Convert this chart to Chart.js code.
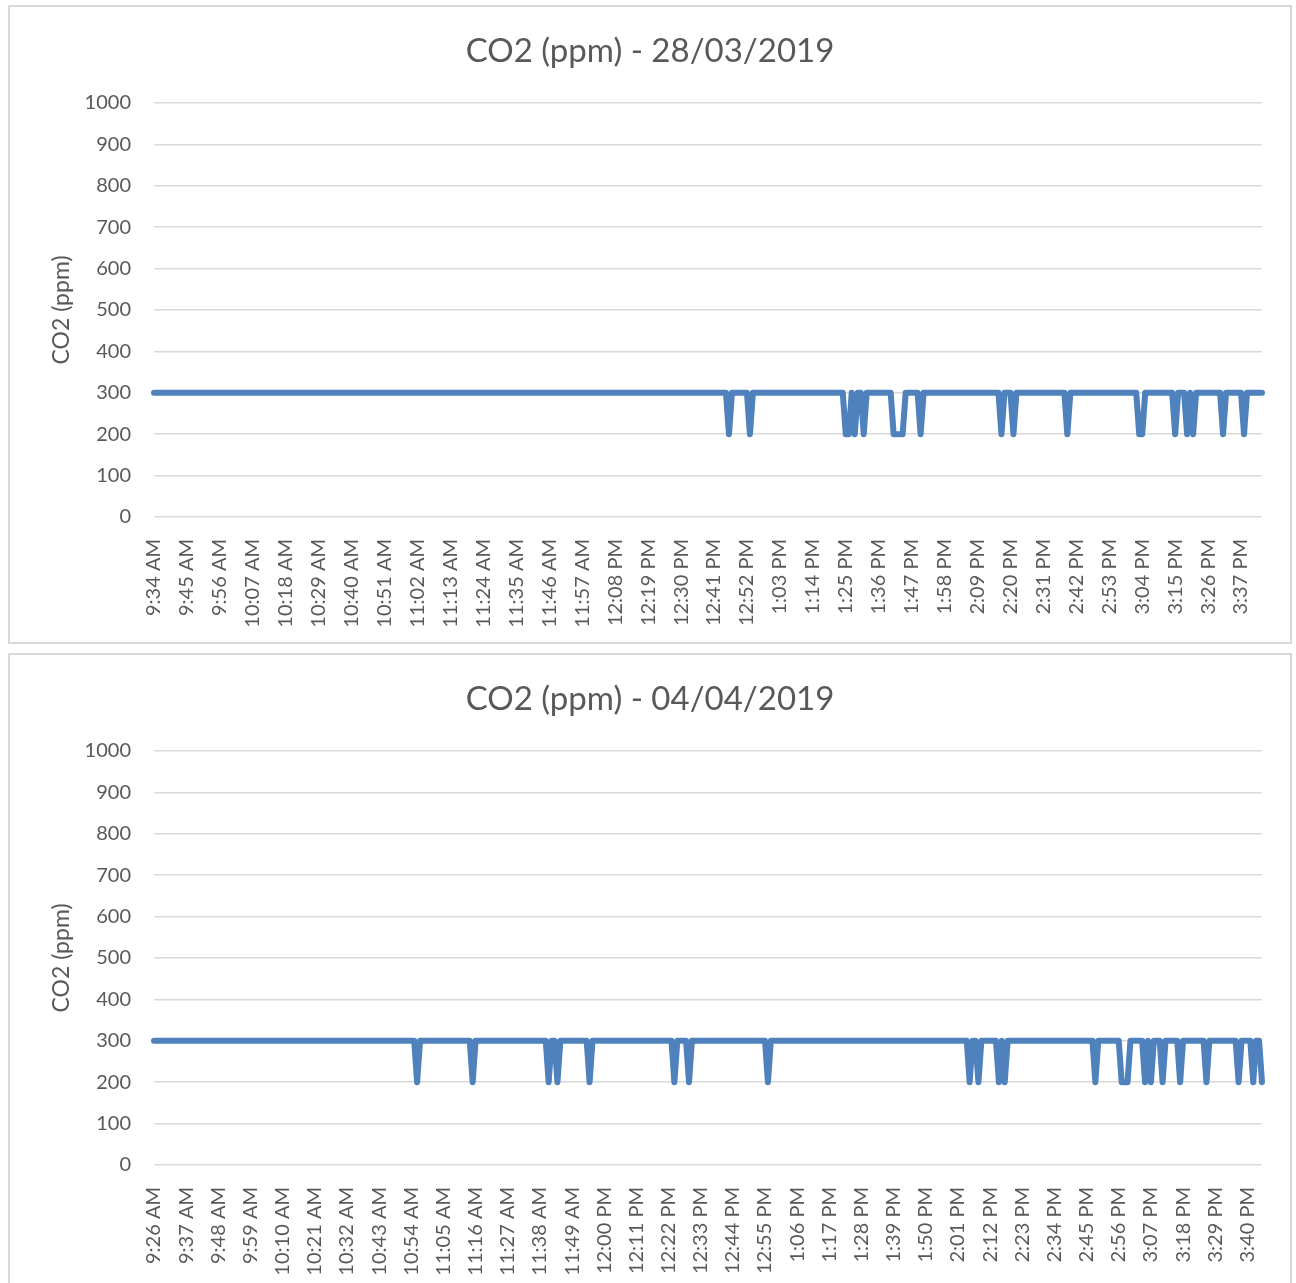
<!DOCTYPE html>
<html>
<head>
<meta charset="utf-8">
<script src="https://cdn.jsdelivr.net/npm/chart.js@4.4.0/dist/chart.umd.min.js"></script>
<style>
    body { margin: 0; background: #ffffff; }
    .box { position: absolute; left: 8px; width: 1280px; height: 635px; border: 2px solid #d9d9d9; background: #fff; }
    #box1 { top: 5px; }
    #box2 { top: 653px; }
</style>
</head>
<body>
<div class="box" id="box1"><canvas id="myChart1" width="1280" height="635"></canvas></div>
<div class="box" id="box2"><canvas id="myChart2" width="1280" height="635"></canvas></div>
<script>
// first reading of each day, one reading per minute after that
const startDay1 = [9, 34];
const startDay2 = [9, 26];

const titleDay1 = 'CO2 (ppm) - 28/03/2019';
const titleDay2 = 'CO2 (ppm) - 04/04/2019';
const axisTitle = 'CO2 (ppm)';

// CO2 readings (ppm), one per minute
const co2Day1 = [
    300,300,300,300,300, 300,300,300,300,300, 300,300,300,300,300, 300,300,300,300,300,
    300,300,300,300,300, 300,300,300,300,300, 300,300,300,300,300, 300,300,300,300,300,
    300,300,300,300,300, 300,300,300,300,300, 300,300,300,300,300, 300,300,300,300,300,
    300,300,300,300,300, 300,300,300,300,300, 300,300,300,300,300, 300,300,300,300,300,
    300,300,300,300,300, 300,300,300,300,300, 300,300,300,300,300, 300,300,300,300,300,
    300,300,300,300,300, 300,300,300,300,300, 300,300,300,300,300, 300,300,300,300,300,
    300,300,300,300,300, 300,300,300,300,300, 300,300,300,300,300, 300,300,300,300,300,
    300,300,300,300,300, 300,300,300,300,300, 300,300,300,300,300, 300,300,300,300,300,
    300,300,300,300,300, 300,300,300,300,300, 300,300,300,300,300, 300,300,300,300,300,
    300,300,300,300,300, 300,300,300,300,300, 300,300,200,300,300, 300,300,300,300,200,
    300,300,300,300,300, 300,300,300,300,300, 300,300,300,300,300, 300,300,300,300,300,
    300,300,300,300,300, 300,300,300,300,300, 300,200,200,300,200, 300,300,200,300,300,
    300,300,300,300,300, 300,300,200,200,200, 200,300,300,300,300, 300,200,300,300,300,
    300,300,300,300,300, 300,300,300,300,300, 300,300,300,300,300, 300,300,300,300,300,
    300,300,300,200,300, 300,300,200,300,300, 300,300,300,300,300, 300,300,300,300,300,
    300,300,300,300,300, 200,300,300,300,300, 300,300,300,300,300, 300,300,300,300,300,
    300,300,300,300,300, 300,300,300,300,200, 200,300,300,300,300, 300,300,300,300,300,
    300,200,300,300,300, 200,300,200,300,300, 300,300,300,300,300, 300,300,200,300,300,
    300,300,300,300,200, 300,300,300,300,300, 300
];

const co2Day2 = [
    300,300,300,300,300, 300,300,300,300,300, 300,300,300,300,300, 300,300,300,300,300,
    300,300,300,300,300, 300,300,300,300,300, 300,300,300,300,300, 300,300,300,300,300,
    300,300,300,300,300, 300,300,300,300,300, 300,300,300,300,300, 300,300,300,300,300,
    300,300,300,300,300, 300,300,300,300,300, 300,300,300,300,300, 300,300,300,300,300,
    300,300,300,300,300, 300,300,300,300,300, 200,300,300,300,300, 300,300,300,300,300,
    300,300,300,300,300, 300,300,300,300,200, 300,300,300,300,300, 300,300,300,300,300,
    300,300,300,300,300, 300,300,300,300,300, 300,300,300,300,300, 200,300,300,200,300,
    300,300,300,300,300, 300,300,300,300,200, 300,300,300,300,300, 300,300,300,300,300,
    300,300,300,300,300, 300,300,300,300,300, 300,300,300,300,300, 300,300,300,200,300,
    300,300,300,200,300, 300,300,300,300,300, 300,300,300,300,300, 300,300,300,300,300,
    300,300,300,300,300, 300,300,300,300,300, 200,300,300,300,300, 300,300,300,300,300,
    300,300,300,300,300, 300,300,300,300,300, 300,300,300,300,300, 300,300,300,300,300,
    300,300,300,300,300, 300,300,300,300,300, 300,300,300,300,300, 300,300,300,300,300,
    300,300,300,300,300, 300,300,300,300,300, 300,300,300,300,300, 300,300,300,300,200,
    300,300,200,300,300, 300,300,300,300,200, 300,200,300,300,300, 300,300,300,300,300,
    300,300,300,300,300, 300,300,300,300,300, 300,300,300,300,300, 300,300,300,300,300,
    300,300,200,300,300, 300,300,300,300,300, 300,200,200,200,300, 300,300,300,300,200,
    300,200,300,300,300, 200,300,300,300,300, 300,200,300,300,300, 300,300,300,300,300,
    200,300,300,300,300, 300,300,300,300,300, 300,200,300,300,300, 300,200,300,300,200
];

const labelEvery = 11;

function minuteLabels(start, count) {
    const out = [];
    for (let k = 0; k < count; k++) {
        const t = start[0] * 60 + start[1] + k;
        let h = Math.floor(t / 60);
        const m = t % 60;
        const ap = h >= 12 ? 'PM' : 'AM';
        h = h % 12 || 12;
        out.push(h + ':' + String(m).padStart(2, '0') + ' ' + ap);
    }
    return out;
}

const grey = '#595959';
const fontName = 'Lato';

function makeChart(id, title, start, values) {
    new Chart(document.getElementById(id), {
        type: 'line',
        data: {
            labels: minuteLabels(start, values.length),
            datasets: [{
                data: values,
                borderColor: '#4f81bd',
                borderWidth: 6,
                borderJoinStyle: 'round',
                borderCapStyle: 'round',
                pointRadius: 0,
                tension: 0,
                fill: false
            }]
        },
        options: {
            responsive: false,
            animation: false,
            layout: {
                padding: { top: 25, right: 0, bottom: 0, left: 0 }
            },
            plugins: {
                legend: { display: false },
                tooltip: { enabled: false },
                title: {
                    display: true,
                    text: title,
                    color: grey,
                    font: { family: fontName, size: 33, weight: 'normal' },
                    padding: { top: 0, bottom: 31.4 }
                }
            },
            scales: {
                x: {
                    grid: { display: false },
                    border: { display: false },
                    ticks: {
                        autoSkip: false,
                        maxRotation: 90,
                        minRotation: 90,
                        padding: 14,
                        color: grey,
                        font: { family: fontName, size: 20 },
                        callback: function (value, index) {
                            return index % labelEvery === 0 ? this.getLabelForValue(value) : '';
                        }
                    },
                    afterFit: function (scale) {
                        scale.height = 125;
                        scale.paddingLeft = 0;
                        scale.paddingRight = 28;
                    }
                },
                y: {
                    min: 0,
                    max: 1000,
                    border: { display: false },
                    grid: { color: '#d9d9d9', lineWidth: 1.5, drawTicks: false },
                    ticks: {
                        stepSize: 100,
                        padding: 23,
                        color: grey,
                        font: { family: fontName, size: 20 },
                        callback: function (value) { return String(value); }
                    },
                    title: {
                        display: true,
                        text: axisTitle,
                        color: grey,
                        font: { family: fontName, size: 23 },
                        padding: { top: 38, bottom: 0 }
                    },
                    afterFit: function (scale) { scale.width = 144; }
                }
            }
        }
    });
}

makeChart('myChart1', titleDay1, startDay1, co2Day1);
makeChart('myChart2', titleDay2, startDay2, co2Day2);
</script>
</body>
</html>
